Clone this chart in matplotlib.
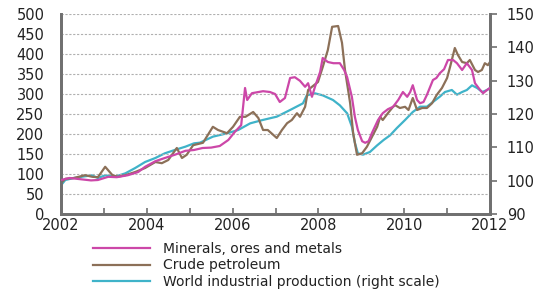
import matplotlib
matplotlib.use("Agg")
import matplotlib.pyplot as plt
from matplotlib.ticker import MultipleLocator

plt.rcParams['font.family'] = ['DejaVu Sans']

# Minerals, ores and metals (left scale)
minerals_t = [2002.0, 2002.2, 2002.45, 2002.7, 2002.86, 2003.1, 2003.3, 2003.56, 2003.8, 2003.96,
              2004.2, 2004.42, 2004.65, 2004.9, 2005.1, 2005.3, 2005.5, 2005.7, 2005.9, 2006.05,
              2006.2, 2006.29, 2006.34, 2006.45, 2006.71, 2006.87, 2006.99, 2007.1, 2007.22, 2007.34,
              2007.45, 2007.57, 2007.69, 2007.76, 2007.85, 2007.92, 2008.04, 2008.1, 2008.22, 2008.35,
              2008.5, 2008.6, 2008.67, 2008.78, 2008.85, 2008.92, 2009.02, 2009.09, 2009.17, 2009.25,
              2009.39, 2009.5, 2009.62, 2009.74, 2009.86, 2009.97, 2010.07, 2010.14, 2010.2, 2010.3,
              2010.37, 2010.45, 2010.53, 2010.67, 2010.75, 2010.83, 2010.93, 2011.02, 2011.14, 2011.23,
              2011.35, 2011.46, 2011.58, 2011.65, 2011.77, 2011.84, 2011.93, 2012.0]
minerals = [85, 90, 87, 84, 85, 93, 92, 97, 105, 118,
            132, 140, 148, 158, 160, 165, 166, 170, 185, 205,
            222, 315, 285, 302, 307, 305, 300, 280, 290, 340,
            342, 333, 318, 327, 293, 318, 355, 390, 380, 377,
            377, 360, 342, 293, 243, 210, 182, 178, 182, 203,
            235, 252, 262, 268, 285, 305, 293, 305, 322, 285,
            277, 280, 298, 335, 340, 352, 362, 385, 385, 377,
            360, 377, 360, 327, 310, 302, 310, 315]

# Crude petroleum (left scale)
crude_t = [2002.0, 2002.1, 2002.3, 2002.56, 2002.73, 2002.86, 2003.03, 2003.2, 2003.32, 2003.5,
           2003.73, 2003.96, 2004.2, 2004.35, 2004.5, 2004.7, 2004.82, 2004.93, 2005.08, 2005.31,
           2005.54, 2005.66, 2005.87, 2006.01, 2006.17, 2006.3, 2006.48, 2006.6, 2006.71, 2006.82,
           2007.03, 2007.15, 2007.27, 2007.38, 2007.5, 2007.57, 2007.69, 2007.76, 2007.85, 2007.99,
           2008.1, 2008.22, 2008.32, 2008.46, 2008.55, 2008.62, 2008.74, 2008.81, 2008.9, 2009.02,
           2009.13, 2009.25, 2009.37, 2009.44, 2009.5, 2009.62, 2009.74, 2009.79, 2009.9, 2010.02,
           2010.1, 2010.2, 2010.3, 2010.42, 2010.53, 2010.65, 2010.76, 2010.88, 2011.0, 2011.07,
           2011.18, 2011.25, 2011.35, 2011.46, 2011.53, 2011.65, 2011.72, 2011.81, 2011.88, 2011.95,
           2012.0]
crude = [77, 88, 90, 97, 93, 92, 118, 97, 93, 97,
         105, 115, 130, 127, 135, 165, 140, 148, 172, 178,
         218, 210, 202, 218, 243, 243, 255, 240, 210, 210,
         190, 210, 227, 235, 252, 243, 268, 310, 318, 330,
         367, 410, 468, 470, 428, 360, 277, 202, 148, 152,
         168, 193, 218, 243, 235, 252, 268, 272, 265, 268,
         260, 290, 260, 265, 265, 277, 298, 315, 340, 368,
         415, 398, 380, 377, 385, 360, 355, 360, 377, 372,
         380]

# World industrial production (right scale)
wip_t = [2002.0, 2002.1, 2002.3, 2002.5, 2002.72, 2002.86, 2003.03, 2003.26, 2003.5, 2003.73,
         2003.96, 2004.2, 2004.42, 2004.65, 2004.9, 2005.1, 2005.24, 2005.54, 2005.87, 2006.13,
         2006.41, 2006.7, 2007.03, 2007.34, 2007.64, 2007.73, 2007.92, 2008.1, 2008.34, 2008.5,
         2008.67, 2008.78, 2008.85, 2008.92, 2009.04, 2009.2, 2009.37, 2009.52, 2009.67, 2009.83,
         2010.02, 2010.2, 2010.37, 2010.53, 2010.67, 2010.83, 2010.95, 2011.11, 2011.23, 2011.35,
         2011.46, 2011.58, 2011.7, 2011.82, 2011.93, 2012.0]
wip = [98.6, 100.2, 100.8, 101.2, 101.6, 100.8, 101.6, 101.2, 102.2, 103.8,
       105.6, 106.8, 108.2, 109.2, 110.2, 111.2, 111.4, 113.2, 114.2, 115.2,
       117.2, 118.2, 119.2, 121.2, 123.2, 125.6, 126.2, 125.6, 124.2, 122.6,
       120.2, 116.2, 111.4, 108.2, 107.8, 108.6, 110.6, 112.2, 113.6, 115.8,
       118.2, 120.6, 122.2, 122.2, 123.6, 125.2, 126.6, 127.2, 125.8, 126.6,
       127.2, 128.6, 127.8, 126.6, 127.2, 127.8]

fig = plt.figure(figsize=(5.46, 2.91), dpi=100)
ax = fig.add_axes([61 / 546, 1 - 214 / 291, 429 / 546, 200 / 291])
ax2 = ax.twinx()

ax.plot(minerals_t, minerals, color='#cc47a8', lw=1.6, label='Minerals, ores and metals', zorder=3)
ax.plot(crude_t, crude, color='#8c7058', lw=1.6, label='Crude petroleum', zorder=2)
ax2.plot(wip_t, wip, color='#3fb3c9', lw=1.6, label='World industrial production (right scale)')
ax.set_zorder(ax2.get_zorder() + 1)
ax.patch.set_visible(False)

ax.set_xlim(2002, 2012)
ax.set_ylim(0, 500)
ax2.set_ylim(90, 150)
ax.set_xticks([2002, 2004, 2006, 2008, 2010, 2012])
ax.xaxis.set_minor_locator(MultipleLocator(1))
ax.yaxis.set_major_locator(MultipleLocator(50))
ax2.yaxis.set_major_locator(MultipleLocator(10))

ax.grid(axis='y', color='#b0b0b0', ls=(0, (2, 1.5)), lw=0.8)

spine_c = '#707070'
for a in (ax, ax2):
    for s in a.spines.values():
        s.set_color(spine_c)
        s.set_linewidth(2)
    a.spines['top'].set_visible(False)
ax.tick_params(axis='x', direction='in', length=4, width=1.2, color=spine_c, labelsize=10.5,
               labelcolor='#222222', pad=3)
ax.tick_params(axis='x', which='minor', direction='in', length=4, width=1.2, color=spine_c)
ax.tick_params(axis='y', length=0, labelsize=10.5, labelcolor='#222222', pad=12)
ax2.tick_params(axis='y', direction='out', length=5, width=1.2, color=spine_c, labelsize=10.5,
                labelcolor='#222222', pad=7)

h1, l1 = ax.get_legend_handles_labels()
h2, l2 = ax2.get_legend_handles_labels()
leg = fig.legend(h1 + h2, l1 + l2, loc='upper left', bbox_to_anchor=(93 / 546, 1 - 242 / 291),
                 frameon=False, fontsize=10, handlelength=4.1, handletextpad=0.95,
                 labelspacing=0.18, borderaxespad=0, borderpad=0)
for t in leg.get_texts():
    t.set_color('#222222')

fig.savefig('out.png', dpi=100)
